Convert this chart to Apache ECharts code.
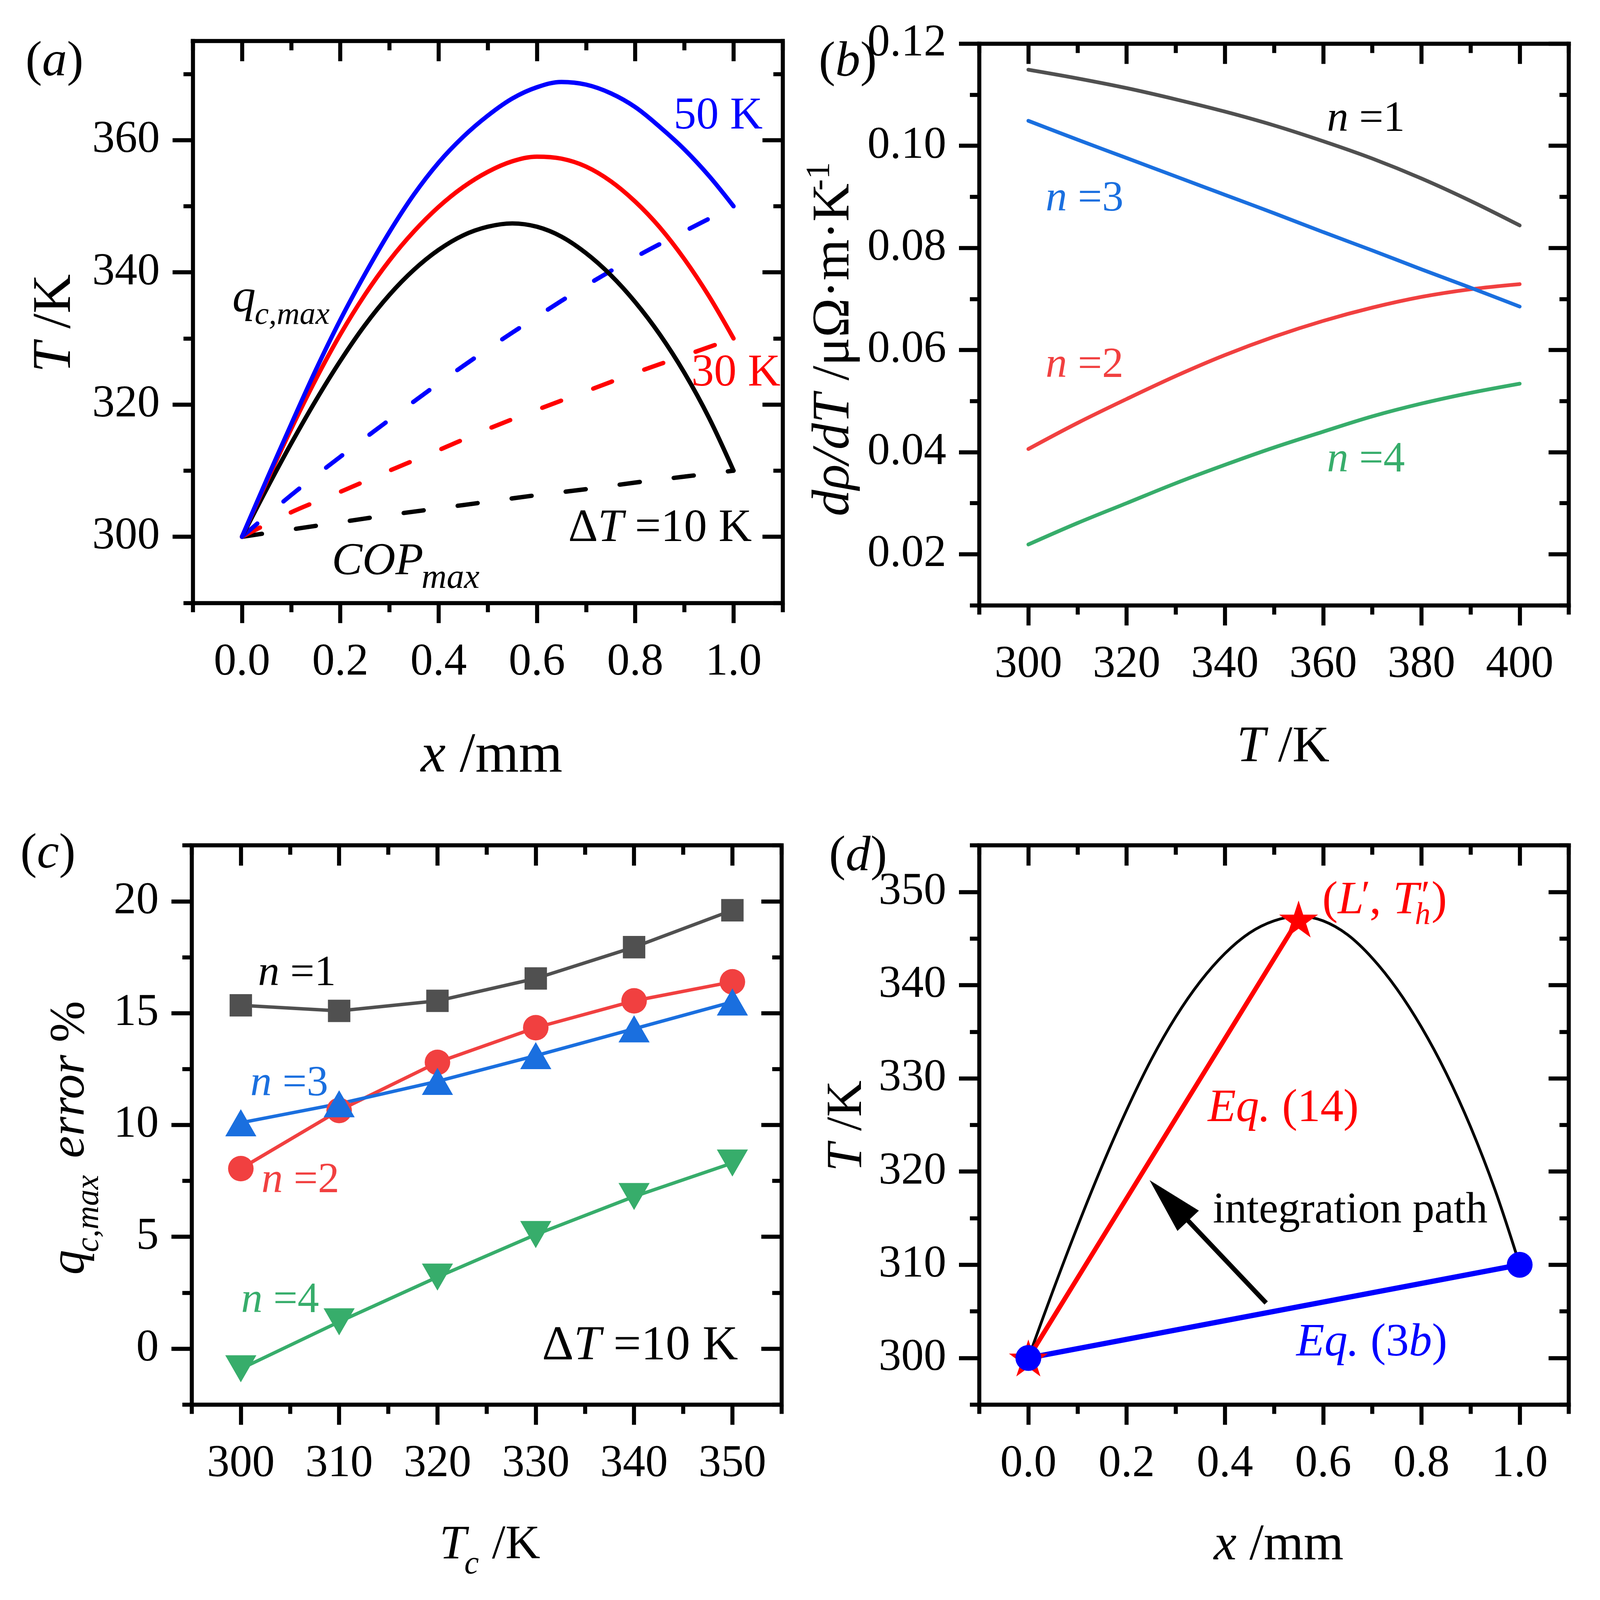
<!DOCTYPE html>
<html>
<head>
<meta charset="utf-8">
<title>Temperature profiles, d&rho;/dT and q<sub>c,max</sub> error</title>
<script src="https://cdn.jsdelivr.net/npm/echarts@6.0.0/dist/echarts.min.js"></script>
<style>
  html, body { margin: 0; padding: 0; background: #ffffff; overflow: hidden; }
  #chart { width: 100vw; height: 100vh; }
</style>
</head>
<body>
<div id="chart"></div>
<script>
const FONT = "'Liberation Serif', 'Times New Roman', Times, serif";
const BLACK = '#000000', RED = '#FF0000', BLUE = '#0000FF';
const C_GRAY = '#505050', C_RED = '#F14040', C_BLUE = '#1A6FDF', C_GREEN = '#37AD6B';

// (a) temperature profiles along the leg, x in mm
const xProfile = [0, 0.05, 0.1, 0.15, 0.2, 0.25, 0.3, 0.35, 0.4, 0.45, 0.5,
                  0.55, 0.6, 0.65, 0.7, 0.75, 0.8, 0.85, 0.9, 0.95, 1.0];
const tQc10 = [300, 307.2, 314.1, 320.6, 326.6, 332.0, 336.6, 340.4, 343.4, 345.6, 346.9,
               347.4, 346.9, 345.4, 342.9, 339.6, 335.5, 330.6, 324.8, 318.0, 310.0];
const tQc30 = [300, 308.3, 316.3, 323.8, 330.6, 336.6, 341.8, 346.2, 349.9, 352.9, 355.2,
               356.8, 357.5, 357.2, 356.0, 353.8, 350.7, 346.8, 342.0, 336.4, 330.0];
const tQc50 = [300, 308.6, 317.0, 325.2, 332.8, 339.7, 346.1, 351.8, 356.6, 360.5, 363.7,
               366.3, 368.0, 368.8, 368.4, 367.1, 365.0, 362.0, 358.6, 354.6, 350.0];
const xCop = [0, 0.1, 0.2, 0.3, 0.4, 0.5, 0.6, 0.7, 0.8, 0.9, 1.0];
const tCop10 = [300, 301.1, 302.2, 303.3, 304.3, 305.3, 306.3, 307.2, 308.2, 309.1, 310.0];
const tCop30 = [300, 303.7, 306.8, 310.0, 313.1, 316.3, 319.2, 322.0, 324.8, 327.4, 330.0];
const tCop50 = [300, 306.3, 312.1, 317.7, 323.2, 328.4, 333.3, 338.0, 342.3, 346.2, 350.0];

// (b) d(rho)/dT against T
const tempB = [300, 310, 320, 330, 340, 350, 360, 370, 380, 390, 400];
const drhoN1 = [0.1149, 0.1132, 0.1113, 0.1091, 0.1067, 0.1040, 0.1009, 0.0975, 0.0936, 0.0892, 0.0844];
const drhoN2 = [0.0406, 0.0457, 0.0504, 0.0549, 0.0590, 0.0626, 0.0657, 0.0683, 0.0704, 0.0719, 0.0729];
const drhoN3 = [0.1049, 0.1012, 0.0976, 0.0940, 0.0904, 0.0868, 0.0831, 0.0795, 0.0758, 0.0722, 0.0685];
const drhoN4 = [0.0219, 0.0261, 0.0300, 0.0339, 0.0375, 0.0409, 0.0440, 0.0470, 0.0495, 0.0516, 0.0534];

// (c) q_c,max error against Tc
const tcC = [300, 310, 320, 330, 340, 350];
const errN1 = [15.35, 15.1, 15.55, 16.55, 17.95, 19.6];
const errN2 = [8.05, 10.65, 12.8, 14.35, 15.55, 16.4];
const errN3 = [10.1, 10.95, 11.95, 13.1, 14.3, 15.5];
const errN4 = [-0.9, 1.2, 3.2, 5.1, 6.8, 8.3];

// (d) integration path
const xEq14 = [0, 0.55];
const tEq14 = [300, 347.1];
const xEq3b = [0, 1.0];
const tEq3b = [300, 310];
const arrowTail = [0.484, 305.9];
const arrowHead = [0.286, 316.9];   // centre of the arrow head

// tick values
const majXmm = [0, 0.2, 0.4, 0.6, 0.8, 1.0];
const minXmm = [-0.1, 0.1, 0.3, 0.5, 0.7, 0.9, 1.1];
const majYa = [300, 320, 340, 360];
const minYa = [290, 310, 330, 350, 370];
const majXb = [300, 320, 340, 360, 380, 400];
const minXb = [290, 310, 330, 350, 370, 390, 410];
const majYb = [0.02, 0.04, 0.06, 0.08, 0.10, 0.12];
const minYb = [0.01, 0.03, 0.05, 0.07, 0.09, 0.11];
const majXc = [300, 310, 320, 330, 340, 350];
const minXc = [295, 305, 315, 325, 335, 345, 355];
const majYc = [0, 5, 10, 15, 20];
const minYc = [-2.5, 2.5, 7.5, 12.5, 17.5, 22.5];
const majYd = [300, 310, 320, 330, 340, 350];
const minYd = [295, 305, 315, 325, 335, 345, 355];

// layout is measured on a 5593 x 4724 page; scale it to whatever the window really is
const W = document.documentElement.clientWidth || window.innerWidth;
const H = document.documentElement.clientHeight || window.innerHeight;
const KX = W / 5593, KY = H / 4724, KS = Math.sqrt(KX * KY);
const px = v => v * KX, py = v => v * KY, ps = v => v * KS;

const chart = echarts.init(document.getElementById('chart'), null, { renderer: 'canvas' });

function pairs(xs, ys) {
  return xs.map((x, i) => [x, ys[i]]);
}

// every side gets two axes: one with the line, minor ticks and labels, one with the major ticks
function makeAxes(dim, g, min, max, step, majors, minors, fmt) {
  const near = dim === 'x' ? 'bottom' : 'left';
  const far = dim === 'x' ? 'top' : 'right';
  const list = [];
  [near, far].forEach(pos => {
    const outside = pos === near;
    const common = {
      type: 'value', gridIndex: g, position: pos, min: min, max: max, interval: step,
      splitLine: { show: false }
    };
    list.push(Object.assign({}, common, {
      axisLine: { show: true, onZero: false, lineStyle: { color: BLACK, width: ps(13), cap: 'square' } },
      axisTick: { show: true, inside: !outside, length: ps(30), customValues: minors,
                  lineStyle: { color: BLACK, width: ps(13) } },
      axisLabel: outside ? {
        show: true, customValues: majors, formatter: fmt,
        margin: dim === 'x' ? py(110) : px(115),
        fontSize: ps(145), fontFamily: FONT, color: BLACK
      } : { show: false }
    }));
    list.push(Object.assign({}, common, {
      axisLine: { show: false, onZero: false },
      axisTick: { show: true, inside: !outside, length: ps(65), customValues: majors,
                  lineStyle: { color: BLACK, width: ps(13) } },
      axisLabel: { show: false }
    }));
  });
  return list;
}

const fix1 = v => v.toFixed(1);
const fix2 = v => v.toFixed(2);
const plain = v => String(v);

const xAxes = [].concat(
  makeAxes('x', 0, -0.1, 1.1, 0.1, majXmm, minXmm, fix1),
  makeAxes('x', 1, 290, 410, 10, majXb, minXb, plain),
  makeAxes('x', 2, 295, 355, 5, majXc, minXc, plain),
  makeAxes('x', 3, -0.1, 1.1, 0.1, majXmm, minXmm, fix1)
);
const yAxes = [].concat(
  makeAxes('y', 0, 290, 375, 5, majYa, minYa, plain),
  makeAxes('y', 1, 0.01, 0.12, 0.01, majYb, minYb, fix2),
  makeAxes('y', 2, -2.5, 22.5, 2.5, majYc, minYc, plain),
  makeAxes('y', 3, 295, 355, 5, majYd, minYd, plain)
);

// text helpers: anchor = left/right/centre + baseline, or baseline x + start y when rotated;
// off moves a piece inside a group (sub/superscripts) and scales with the font
function rich(size, color) {
  return { i: { fontStyle: 'italic', fontSize: size, fontFamily: FONT, fill: color } };
}
function label(edge, base, text, size, color, off, align) {
  color = color || BLACK;
  off = off || [0, 0];
  const s = ps(size);
  return {
    type: 'text', x: px(edge) + ps(off[0]), y: py(base) + ps(off[1]) - 0.3375 * s, silent: true,
    style: { text: text, fontSize: s, fontFamily: FONT, fill: color,
             align: align || 'left', verticalAlign: 'middle', rich: rich(s, color) }
  };
}
function rlabel(right, base, text, size, color) {
  return label(right, base, text, size, color, null, 'right');
}
function clabel(middle, base, text, size, color) {
  return label(middle, base, text, size, color, null, 'center');
}
function vlabel(baseX, start, text, size, color, off) {
  color = color || BLACK;
  off = off || [0, 0];
  const s = ps(size);
  return {
    type: 'text', x: px(baseX) + ps(off[0]) - 0.3375 * s, y: py(start) + ps(off[1]),
    rotation: Math.PI / 2, silent: true,
    style: { text: text, fontSize: s, fontFamily: FONT, fill: color,
             align: 'left', verticalAlign: 'middle', rich: rich(s, color) }
  };
}

const texts = [
  // (a)
  label(89, 234, '({i|a})', 160),
  vlabel(259, 1100, '{i|T} /K', 175),
  label(1471, 2290, '{i|x} /mm', 180),
  label(812, 930, '{i|q}', 150),
  label(812, 930, '{i|c,max}', 102, BLACK, [72, 36]),
  label(1160, 1705, '{i|COP}', 147),
  label(1160, 1705, '{i|max}', 112, BLACK, [288, 42]),
  rlabel(2628, 1608, 'Δ{i|T} =10 K', 148),
  rlabel(2666, 390, '50 K', 145, BLUE),
  rlabel(2728, 1148, '30 K', 145, RED),
  // (b)
  label(2862, 235, '({i|b})', 160),
  vlabel(2980, 1524, '{i|dρ/dT} /μΩ·m·K', 170),
  vlabel(2980, 1524, '-1', 110, BLACK, [-68, -1046]),
  label(4323, 2259, '{i|T} /K', 165),
  rlabel(4911, 396, '{i|n} =1', 138),
  label(3655, 631, '{i|n} =3', 138, C_BLUE),
  label(3655, 1122, '{i|n} =2', 138, C_RED),
  rlabel(4911, 1401, '{i|n} =4', 138, C_GREEN),
  // (c)
  label(71, 2572, '({i|c})', 160),
  vlabel(305, 3764, '{i|q}', 160),
  vlabel(305, 3764, '{i|c,max}', 105, BLACK, [43, -73]),
  vlabel(305, 3764, '{i|error} %', 160, BLACK, [0, -375]),
  label(1536, 4611, '{i|T}', 155),
  label(1536, 4611, '{i|c}', 105, BLACK, [80, 46]),
  label(1536, 4611, '/K', 155, BLACK, [169, 0]),
  label(902, 2918, '{i|n} =1', 138),
  label(875, 3243, '{i|n} =3', 138, C_BLUE),
  label(914, 3529, '{i|n} =2', 138, C_RED),
  label(843, 3884, '{i|n} =4', 138, C_GREEN),
  rlabel(2580, 4024, 'Δ{i|T} =10 K', 158),
  // (d)
  label(2898, 2580, '({i|d})', 160),
  vlabel(3023, 3459, '{i|T} /K', 162),
  label(4243, 4615, '{i|x} /mm', 165),
  label(4622, 2707, '({i|L}', 150, RED),
  label(4622, 2707, '′', 130, RED, [126, -17]),
  label(4622, 2707, ', {i|T}', 150, RED, [152, 0]),
  label(4622, 2707, '′', 130, RED, [318, -17]),
  label(4622, 2707, '{i|h}', 100, RED, [298, 30]),
  label(4622, 2707, ')', 150, RED, [351, 0]),
  label(4222, 3320, '{i|Eq.} (14)', 148, RED),
  clabel(4720, 3620, 'integration path', 140),
  rlabel(5059, 4012, '{i|Eq.} (3{i|b})', 148, BLUE)
];

const STAR = 'path://M0,-100L22.5,-31L95,-31L36.5,12L59,81L0,38L-59,81L-36.5,12L-95,-31L-22.5,-31Z';

function curve(g, data, color, width, dashed) {
  return {
    type: 'line', xAxisIndex: 4 * g, yAxisIndex: 4 * g, data: data,
    symbol: 'none', showSymbol: false, smooth: 0.35, silent: true,
    lineStyle: dashed
      ? { color: color, width: ps(width), type: [ps(65), ps(110)], cap: 'round' }
      : { color: color, width: ps(width), cap: 'round' }
  };
}
function marked(g, data, color, symbol, size, rotate) {
  return {
    type: 'line', xAxisIndex: 4 * g, yAxisIndex: 4 * g, data: data, silent: true,
    symbol: symbol, symbolSize: Array.isArray(size) ? size.map(ps) : ps(size),
    symbolRotate: rotate || 0, showSymbol: true,
    itemStyle: { color: color }, lineStyle: { color: color, width: ps(11) }
  };
}

const series = [
  // (a)
  curve(0, pairs(xCop, tCop10), BLACK, 14, true),
  curve(0, pairs(xCop, tCop30), RED, 14, true),
  curve(0, pairs(xCop, tCop50), BLUE, 14, true),
  curve(0, pairs(xProfile, tQc10), BLACK, 14, false),
  curve(0, pairs(xProfile, tQc30), RED, 14, false),
  curve(0, pairs(xProfile, tQc50), BLUE, 14, false),
  // (b)
  curve(1, pairs(tempB, drhoN1), C_GRAY, 12, false),
  curve(1, pairs(tempB, drhoN2), C_RED, 12, false),
  curve(1, pairs(tempB, drhoN3), C_BLUE, 12, false),
  curve(1, pairs(tempB, drhoN4), C_GREEN, 12, false),
  // (c)
  marked(2, pairs(tcC, errN1), C_GRAY, 'rect', 72),
  marked(2, pairs(tcC, errN2), C_RED, 'circle', 82),
  marked(2, pairs(tcC, errN3), C_BLUE, 'triangle', [100, 87]),
  marked(2, pairs(tcC, errN4), C_GREEN, 'triangle', [100, 87], 180),
  // (d)
  Object.assign(curve(3, pairs(xProfile, tQc10), BLACK, 9, false), {
    markLine: {
      silent: true, symbol: ['none', 'triangle'], symbolSize: [ps(95), ps(180)],
      label: { show: false }, itemStyle: { color: BLACK },
      lineStyle: { color: BLACK, width: ps(15), type: 'solid' },
      data: [[{ coord: arrowTail }, { coord: arrowHead }]]
    }
  }),
  {
    type: 'line', xAxisIndex: 12, yAxisIndex: 12, data: pairs(xEq14, tEq14), silent: true,
    symbol: STAR, symbolSize: [ps(125), ps(119)], showSymbol: true,
    itemStyle: { color: RED }, lineStyle: { color: RED, width: ps(15) }
  },
  {
    type: 'line', xAxisIndex: 12, yAxisIndex: 12, data: pairs(xEq3b, tEq3b), silent: true,
    symbol: 'circle', symbolSize: ps(83), showSymbol: true,
    itemStyle: { color: BLUE }, lineStyle: { color: BLUE, width: ps(17) }
  }
];

chart.setOption({
  animation: false,
  backgroundColor: '#ffffff',
  grid: [
    { left: px(674), top: py(121), width: px(2062), height: py(1659) },
    { left: px(3423), top: py(129), width: px(2061), height: py(1658) },
    { left: px(670), top: py(2496), width: px(2062), height: py(1651) },
    { left: px(3423), top: py(2496), width: px(2061), height: py(1651) }
  ],
  xAxis: xAxes,
  yAxis: yAxes,
  graphic: { elements: texts },
  series: series
});
</script>
</body>
</html>
